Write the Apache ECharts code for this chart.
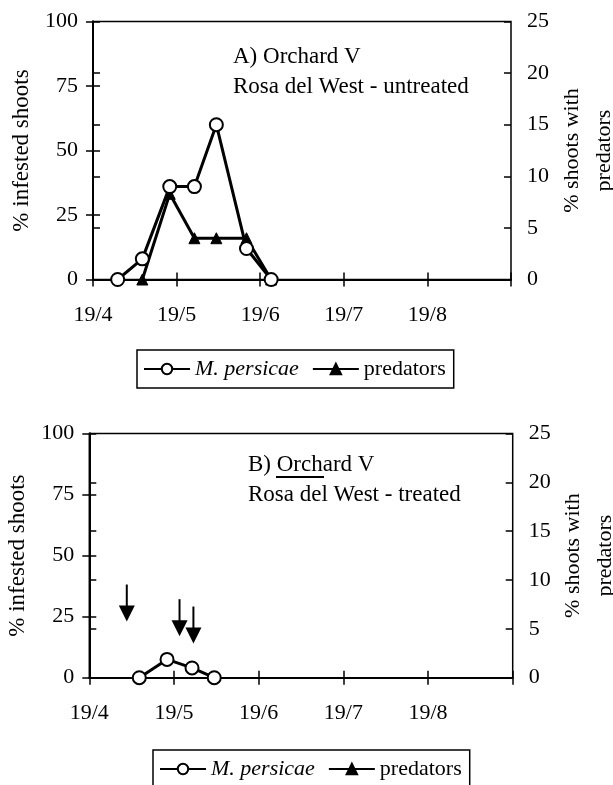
<!DOCTYPE html>
<html>
<head>
<meta charset="utf-8">
<style>
  html, body { margin: 0; padding: 0; background: #fff; overflow: hidden; }
  #chart { width: 613px; height: 785px; }
</style>
<script src="https://cdn.jsdelivr.net/npm/echarts@6/dist/echarts.min.js"></script>
</head>
<body>
<div id="chart"></div>
<script>
// Sampling dates are given as days after 19 April.
const monthLabels = ['19/4', '19/5', '19/6', '19/7', '19/8'];
const leftTicks = [0, 25, 50, 75, 100];
const rightTicks = [0, 5, 10, 15, 20, 25];

// A) Orchard V, Rosa del West - untreated
const aDays = [9, 18, 28, 37, 45, 56, 65];
const aAphids = [0, 8, 36, 36, 60, 12, 0];          // % infested shoots
const aPredDays = [18, 28, 37, 45, 56, 65];
const aPredators = [0, 8.3, 4, 4, 4, 0];            // % shoots with predators

// B) Orchard V, Rosa del West - treated
const bDays = [18, 28, 37, 45];
const bAphids = [0, 7.5, 4, 0];
const bPredDays = [];
const bPredators = [];

// Insecticide applications (days after 19 April)
const sprayDays = [13.5, 32.5, 37.5];

const FONT = 'Liberation Serif';
const INK = '#000';
const MONTH = 30.5;

const pairs = (xs, ys) => xs.map((x, i) => [x, ys[i]]);

function xAxes(gridIndex) {
  const base = {
    type: 'value', gridIndex: gridIndex, position: 'bottom',
    min: 0, max: MONTH * 5, interval: MONTH,
    splitLine: { show: false }
  };
  return [
    Object.assign({}, base, {
      axisLine: { show: true, lineStyle: { color: INK, width: 2 } },
      axisTick: { show: true, inside: false, length: 7, lineStyle: { color: INK, width: 1.5 } },
      axisLabel: {
        margin: 25, color: INK, fontFamily: FONT, fontSize: 22,
        formatter: v => monthLabels[Math.round(v / MONTH)] || ''
      }
    }),
    Object.assign({}, base, {
      axisLine: { show: false },
      axisTick: { show: true, inside: true, length: 7, lineStyle: { color: INK, width: 1.5 } },
      axisLabel: { show: false }
    })
  ];
}

function yAxes(gridIndex) {
  const left = {
    type: 'value', gridIndex: gridIndex, position: 'left',
    min: leftTicks[0], max: leftTicks[leftTicks.length - 1], interval: leftTicks[1] - leftTicks[0],
    splitLine: { show: false }
  };
  const right = {
    type: 'value', gridIndex: gridIndex, position: 'right',
    min: rightTicks[0], max: rightTicks[rightTicks.length - 1], interval: rightTicks[1] - rightTicks[0],
    splitLine: { show: false }
  };
  const line = { show: true, lineStyle: { color: INK, width: 2 } };
  const tickOut = { show: true, inside: false, length: 7, lineStyle: { color: INK, width: 1.5 } };
  const tickIn = { show: true, inside: true, length: 7, lineStyle: { color: INK, width: 1.5 } };
  return [
    Object.assign({}, left, {
      axisLine: line, axisTick: tickOut,
      axisLabel: { margin: 15, color: INK, fontFamily: FONT, fontSize: 22 },
      name: '% infested shoots', nameLocation: 'middle', nameRotate: 90, nameGap: 60,
      nameTextStyle: { color: INK, fontFamily: FONT, fontSize: 23 }
    }),
    Object.assign({}, right, {
      axisLine: line, axisTick: tickOut,
      axisLabel: { margin: 16, color: INK, fontFamily: FONT, fontSize: 22 },
      name: '% shoots with\npredators', nameLocation: 'middle', nameRotate: 90,
      nameGap: 45, nameMoveOverlap: false,
      nameTextStyle: { color: INK, fontFamily: FONT, fontSize: 22, lineHeight: 32 }
    }),
    Object.assign({}, left, { axisLine: { show: false }, axisTick: tickIn, axisLabel: { show: false } }),
    Object.assign({}, right, { axisLine: { show: false }, axisTick: tickIn, axisLabel: { show: false } })
  ];
}

function aphidSeries(xi, yi, data) {
  return {
    name: 'M. persicae', type: 'line', xAxisIndex: xi, yAxisIndex: yi, data: data,
    symbol: 'circle', symbolSize: 13, z: 4,
    lineStyle: { color: INK, width: 3 },
    itemStyle: { color: '#fff', borderColor: INK, borderWidth: 2 },
    animation: false
  };
}

function predatorSeries(xi, yi, data) {
  return {
    name: 'predators', type: 'line', xAxisIndex: xi, yAxisIndex: yi, data: data,
    symbol: 'triangle', symbolSize: 11, z: 3,
    lineStyle: { color: INK, width: 3 },
    itemStyle: { color: INK, borderColor: INK, borderWidth: 1 },
    animation: false
  };
}

function legendAt(left, top) {
  return {
    data: ['M. persicae', 'predators'],
    left: left, top: top, orient: 'horizontal',
    itemWidth: 46, itemHeight: 13, itemGap: 13,
    padding: [8, 8, 8, 6],
    borderColor: INK, borderWidth: 1.5,
    selectedMode: false,
    textStyle: {
      color: INK, fontFamily: FONT, fontSize: 22,
      rich: { i: { fontStyle: 'italic', fontFamily: FONT, fontSize: 22, color: INK } }
    },
    formatter: name => name === 'M. persicae' ? '{i|' + name + '}' : name
  };
}

const chart = echarts.init(document.getElementById('chart'), null, { renderer: 'canvas' });

chart.setOption({
  backgroundColor: '#fff',
  animation: false,
  title: [
    {
      text: 'A) Orchard V\nRosa del West - untreated', left: 233, top: 42, padding: 0,
      textStyle: { color: INK, fontFamily: FONT, fontSize: 23, fontWeight: 'normal', lineHeight: 30 }
    },
    {
      text: 'B) Orchard V\nRosa del West - treated', left: 248, top: 450, padding: 0,
      textStyle: { color: INK, fontFamily: FONT, fontSize: 23, fontWeight: 'normal', lineHeight: 30 }
    }
  ],
  grid: [
    { left: 93, right: 102, top: 21.5, height: 258, show: true, borderColor: INK, borderWidth: 1.5, outerBoundsMode: 'none' },
    { left: 89.3, right: 100.3, top: 433.5, height: 244.2, show: true, borderColor: INK, borderWidth: 1.5, outerBoundsMode: 'none' }
  ],
  legend: [legendAt(137, 350), legendAt(153, 750)],
  xAxis: xAxes(0).concat(xAxes(1)),
  yAxis: yAxes(0).concat(yAxes(1)),
  graphic: [
    // short rule under "Orch" in the panel B heading
    { type: 'line', shape: { x1: 276, y1: 477, x2: 324, y2: 477 }, style: { stroke: INK, lineWidth: 2 } }
  ],
  series: [
    predatorSeries(0, 1, pairs(aPredDays, aPredators)),
    aphidSeries(0, 0, pairs(aDays, aAphids)),
    predatorSeries(2, 5, pairs(bPredDays, bPredators)),
    aphidSeries(2, 4, pairs(bDays, bAphids)),
    {
      name: 'sprays', type: 'custom', xAxisIndex: 2, yAxisIndex: 4,
      // arrow tips sit just above the aphid curve
      data: sprayDays.map((d, i) => [d, [23, 17, 14][i]]),
      renderItem: (params, api) => {
        const p = api.coord([api.value(0), api.value(1)]);
        const x = p[0], y = p[1];
        return {
          type: 'group',
          children: [
            { type: 'line', shape: { x1: x, y1: y - 37, x2: x, y2: y - 12 }, style: { stroke: INK, lineWidth: 2 } },
            { type: 'polygon', shape: { points: [[x - 8, y - 16], [x + 8, y - 16], [x, y]] }, style: { fill: INK } }
          ]
        };
      },
      z: 5, animation: false
    }
  ]
});
</script>
</body>
</html>
